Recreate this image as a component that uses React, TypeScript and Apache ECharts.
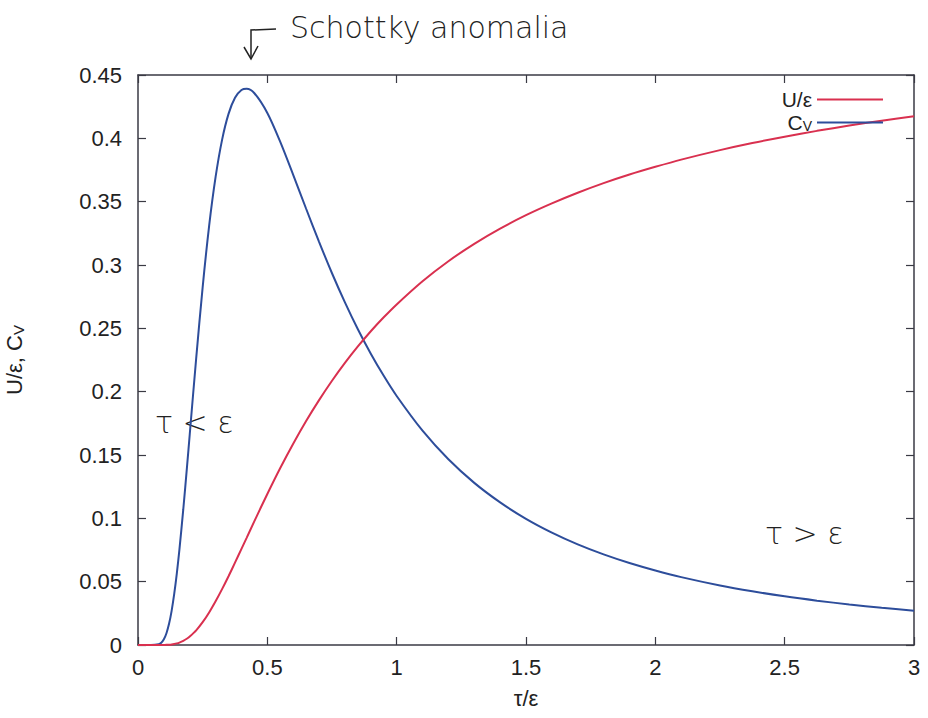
import React, { useEffect, useRef } from "react";
import * as echarts from "echarts";

const tau = [0, 0.05, 0.08, 0.09, 0.1, 0.11, 0.12, 0.13, 0.14, 0.15, 0.16, 0.175, 0.19, 0.2, 0.225, 0.25, 0.275, 0.3, 0.325, 0.35, 0.375, 0.4, 0.42, 0.45, 0.5, 0.55, 0.6, 0.65, 0.7, 0.75, 0.8, 0.85, 0.9, 0.95, 1.0, 1.1, 1.2, 1.3, 1.4, 1.5, 1.6, 1.7, 1.8, 1.9, 2.0, 2.1, 2.25, 2.375, 2.5, 2.625, 2.75, 2.875, 3.0];
const uEps = [0, 0, 0, 0, 0.00005, 0.0001, 0.00024, 0.00046, 0.00079, 0.00127, 0.00193, 0.0033, 0.00515, 0.0067, 0.0116, 0.018, 0.0257, 0.0345, 0.0441, 0.0543, 0.065, 0.0759, 0.0846, 0.0978, 0.1192, 0.1397, 0.1589, 0.1768, 0.1933, 0.2086, 0.2227, 0.2357, 0.2477, 0.2587, 0.2689, 0.2872, 0.303, 0.3167, 0.3287, 0.3393, 0.3486, 0.357, 0.3646, 0.3714, 0.3775, 0.3832, 0.3907, 0.3963, 0.4013, 0.4059, 0.4101, 0.4139, 0.4174];
const cV = [0, 0, 0.0006, 0.0018, 0.0045, 0.0093, 0.0167, 0.027, 0.0403, 0.0564, 0.0751, 0.107, 0.142, 0.1662, 0.2265, 0.2826, 0.3309, 0.3695, 0.3988, 0.4193, 0.432, 0.4381, 0.4391, 0.4356, 0.42, 0.3972, 0.3712, 0.3444, 0.3183, 0.2935, 0.2705, 0.2493, 0.23, 0.2125, 0.1966, 0.1692, 0.1466, 0.128, 0.1126, 0.0996, 0.0887, 0.0794, 0.0715, 0.0647, 0.0588, 0.0536, 0.047, 0.0424, 0.0384, 0.035, 0.032, 0.0294, 0.027];

const RED = "#d9304f";
const BLUE = "#2d4d9b";
const AXIS = "#3a3a44";
const FONT = "Liberation Sans";

export default function App() {
  const ref = useRef<HTMLDivElement>(null);
  useEffect(() => {
    if (!ref.current) return;
    const chart = echarts.init(ref.current, null, { renderer: "svg" });
    const uData = tau.map((t, i) => [t, uEps[i]]);
    const cData = tau.map((t, i) => [t, cV[i]]);
    const axisCommon = {
      axisLine: { show: true, onZero: false, lineStyle: { color: AXIS, width: 1.5 } },
      axisTick: { show: true, inside: true, length: 8, lineStyle: { color: AXIS, width: 1.2 } },
      splitLine: { show: false },
    };
    const rich = {
      b: { fontFamily: FONT, fontSize: 22, color: "#222" },
      s: { fontFamily: FONT, fontSize: 15, color: "#222", verticalAlign: "bottom", padding: [9, 0, 0, 0] },
    };
    const legendRich = {
      b: { fontFamily: FONT, fontSize: 21, color: "#222", lineHeight: 21 },
      s: { fontFamily: FONT, fontSize: 14, color: "#222", lineHeight: 21, verticalAlign: "bottom", padding: [7, 0, 0, 0] },
    };
    chart.setOption({
      animation: false,
      backgroundColor: "#ffffff",
      grid: { left: 138, top: 75, width: 776, height: 570, containLabel: false, outerBoundsMode: "none" },
      legend: {
        orient: "vertical",
        right: 40,
        top: 84,
        align: "right",
        itemWidth: 66,
        itemHeight: 2,
        itemGap: 2,
        icon: "rect",
        textStyle: { fontFamily: FONT, fontSize: 21, color: "#222", rich: legendRich },
        formatter: (name: string) => (name === "CV" ? "{b|C}{s|V}" : "{b|U/ε}"),
        data: ["U/ε", "CV"],
      },
      xAxis: [
        {
          type: "value",
          min: 0,
          max: 3,
          interval: 0.5,
          position: "bottom",
          ...axisCommon,
          axisLabel: { fontFamily: FONT, fontSize: 22, color: "#222", margin: 11 },
          name: "τ/ε",
          nameLocation: "middle",
          nameGap: 42,
          nameTextStyle: { fontFamily: FONT, fontSize: 22, color: "#222" },
        },
        {
          type: "value",
          min: 0,
          max: 3,
          interval: 0.5,
          position: "top",
          ...axisCommon,
          axisLabel: { show: false },
        },
      ],
      yAxis: [
        {
          type: "value",
          min: 0,
          max: 0.45,
          interval: 0.05,
          position: "left",
          ...axisCommon,
          axisLabel: { fontFamily: FONT, fontSize: 22, color: "#222", margin: 16 },
          name: "{b|U/ε, C}{s|V}",
          nameLocation: "middle",
          nameGap: 112,
          nameRotate: 90,
          nameTextStyle: { fontFamily: FONT, fontSize: 22, color: "#222", rich },
        },
        {
          type: "value",
          min: 0,
          max: 0.45,
          interval: 0.05,
          position: "right",
          ...axisCommon,
          axisLabel: { show: false },
        },
      ],
      series: [
        {
          name: "U/ε",
          type: "line",
          data: uData,
          showSymbol: false,
          smooth: 0.3,
          lineStyle: { color: RED, width: 2 },
          itemStyle: { color: RED },
          z: 3,
        },
        {
          name: "CV",
          type: "line",
          data: cData,
          showSymbol: false,
          smooth: 0.3,
          lineStyle: { color: BLUE, width: 2 },
          itemStyle: { color: BLUE },
          z: 2,
        },
      ],
      graphic: [
        {
          type: "polyline",
          shape: { points: [[276, 29], [251, 30], [251, 58]] },
          style: { stroke: "#222", lineWidth: 1.5, fill: null },
        },
        {
          type: "polyline",
          shape: { points: [[244, 47], [251, 59], [258, 46]] },
          style: { stroke: "#222", lineWidth: 1.5, fill: null },
        },
        {
          type: "text",
          x: 290,
          y: 12,
          style: { text: "Schottky anomalia", fontFamily: "DejaVu Sans", fontWeight: 200, fontSize: 30, fill: "#222" },
        },
        {
          type: "text",
          x: 155,
          y: 407,
          style: { text: "τ < ε", fontFamily: "DejaVu Sans", fontWeight: 200, fontSize: 30, fill: "#222" },
        },
        {
          type: "text",
          x: 765,
          y: 518,
          style: { text: "τ > ε", fontFamily: "DejaVu Sans", fontWeight: 200, fontSize: 30, fill: "#222" },
        },
      ],
    });
    return () => chart.dispose();
  }, []);
  return (
    <div
      ref={ref}
      style={{ position: "absolute", left: 0, top: 0, width: 928, height: 718 }}
    />
  );
}
